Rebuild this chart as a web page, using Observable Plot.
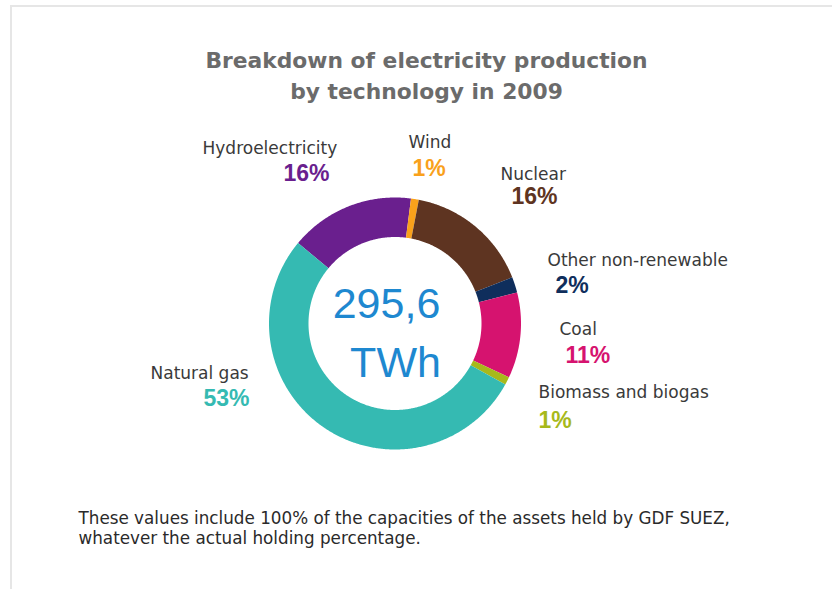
<!DOCTYPE html>
<html>
<head>
<meta charset="utf-8">
<script src="https://cdn.jsdelivr.net/npm/d3@7"></script>
<script src="https://cdn.jsdelivr.net/npm/@observablehq/plot@0.6"></script>
<style>
  html, body { margin: 0; padding: 0; background: #fff; }
  #wrap { position: relative; width: 832px; height: 589px; overflow: hidden; }
  #frame { position: absolute; left: 10px; top: 5px; right: -4px; bottom: -4px;
           border-top: 2px solid #e6e6e6; border-left: 2px solid #e6e6e6; }
  #chart { position: absolute; left: 0; top: 0; }
</style>
</head>
<body>
<div id="wrap"><div id="frame"></div><div id="chart"></div></div>
<script>
// ---- data ----
const categories = ["Hydroelectricity", "Wind", "Nuclear", "Other non-renewable", "Coal", "Biomass and biogas", "Natural gas"];
const shares = [16, 1, 16, 2, 11, 1, 53];
const colors = ["#6a1f8e", "#f9a11b", "#5e3421", "#0f2e5c", "#d6136f", "#a7b91b", "#35bab2"];
const totalValue = "295,6";
const totalUnit = "TWh";
const titleLines = ["Breakdown of electricity production", "by technology in 2009"];
const noteLines = [
  "These values include 100% of the capacities of the assets held by GDF SUEZ,",
  "whatever the actual holding percentage."
];

// ---- layout (pixels) ----
const W = 832, H = 589;
const cx = 395, cy = 323.5, rOuter = 126, rInner = 86.5;
const startDeg = -50.3;
// [nameX, nameBaseline, pctX, pctBaseline]
const labelPos = [
  [202, 153, 283, 180],
  [408, 147, 412, 175],
  [500, 179, 511, 203],
  [547, 265, 555, 292],
  [559, 334, 565, 362],
  [538, 397, 538, 427],
  [150, 378, 203, 405]
];

// ---- geometry from data ----
const start = startDeg * Math.PI / 180;
const arcs = d3.pie().sort(null).startAngle(start).endAngle(start + 2 * Math.PI)(shares);
const ring = [];
arcs.forEach((a, i) => {
  const n = Math.max(4, Math.ceil((a.endAngle - a.startAngle) / (Math.PI / 360)));
  for (let k = 0; k <= n; k++) {
    const t = a.startAngle + (a.endAngle - a.startAngle) * k / n;
    ring.push({
      category: categories[i],
      xo: cx + rOuter * Math.sin(t), yo: cy - rOuter * Math.cos(t),
      xi: cx + rInner * Math.sin(t), yi: cy - rInner * Math.cos(t)
    });
  }
});

const names = categories.map((c, i) => ({ text: c, x: labelPos[i][0], y: labelPos[i][1] }));
const pcts = categories.map((c, i) => ({ text: shares[i] + "%", category: c, x: labelPos[i][2], y: labelPos[i][3] }));

const labelFont = "DejaVu Sans, Verdana, sans-serif";

const plot = Plot.plot({
  width: W, height: H,
  margin: 0,
  x: { domain: [0, W], range: [0, W], axis: null },
  y: { domain: [0, H], range: [0, H], axis: null },
  color: { domain: categories, range: colors },
  style: { background: "transparent", overflow: "visible" },
  marks: [
    Plot.area(ring, { x1: "xo", y1: "yo", x2: "xi", y2: "yi", z: "category", fill: "category" }),
    // title
    Plot.text(titleLines, { x: () => 426, y: (d, i) => 67 + i * 31, text: d => d, textAnchor: "middle",
      lineAnchor: "bottom", fontSize: 21.8, fontWeight: "bold", fill: "#6b6b6b", fontFamily: labelFont }),
    // category names
    Plot.text(names, { x: "x", y: "y", text: "text", textAnchor: "start", lineAnchor: "bottom",
      fontSize: 17, fill: "#3a3a3a", fontFamily: labelFont }),
    // percentages
    Plot.text(pcts, { x: "x", y: "y", text: "text", fill: "category", textAnchor: "start", lineAnchor: "bottom",
      fontSize: 23, fontWeight: "bold", fontFamily: "Liberation Sans, Arial, sans-serif" }),
    // center total
    Plot.text([totalValue, totalUnit], { x: (d, i) => i === 0 ? 386 : 395, y: (d, i) => i === 0 ? 317 : 376,
      text: d => d, textAnchor: "middle", lineAnchor: "bottom", fontSize: 43, fill: "#1e88d0",
      fontFamily: "Liberation Sans, Arial, sans-serif" }),
    // note
    Plot.text(noteLines, { x: () => 78, y: (d, i) => 523 + i * 20, text: d => d, textAnchor: "start",
      lineAnchor: "bottom", fontSize: 16.8, fill: "#2a2a2a", fontFamily: labelFont })
  ]
});
document.getElementById("chart").appendChild(plot);
</script>
</body>
</html>
